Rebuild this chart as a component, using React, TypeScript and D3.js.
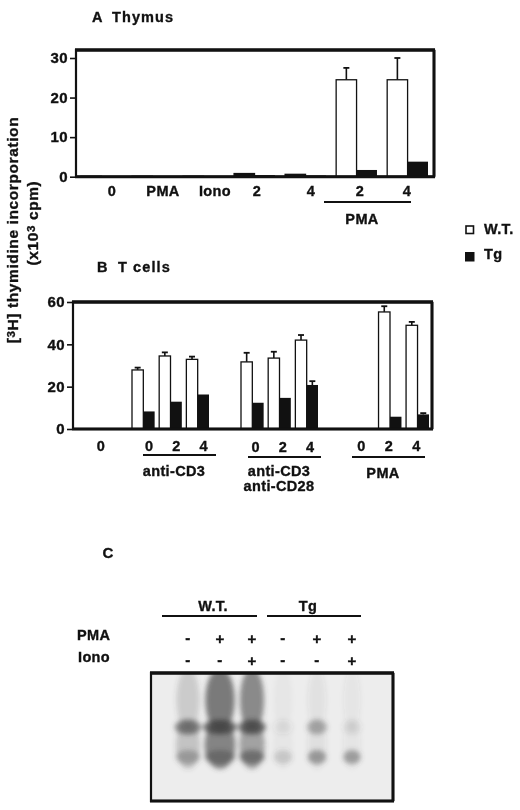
// @ts-nocheck
import { useRef, useEffect } from "react";
import * as d3 from "d3";

// Panel A
const thymusCategories = ["0", "PMA", "Iono", "2", "4", "PMA 2", "PMA 4"];
const thymusLabels = ["0", "PMA", "Iono", "2", "4", "2", "4"];
const thymusWT = [0.1, 0.1, 0.1, 0.8, 0.6, 24.5, 24.5];
const thymusWTErr = [0, 0, 0, 0, 0, 27.5, 30];
const thymusTg = [0.1, 0.1, 0.1, 0.4, 0.3, 1.7, 3.8];
const thymusTicks = [0, 10, 20, 30];

// Panel B
const doses = ["0", "2", "4"];
const cd3WT = [27.9, 34.5, 32.9];
const cd3WTErr = [29, 36.2, 34.2];
const cd3Tg = [8.3, 12.9, 16.3];
const cd28WT = [31.7, 33.5, 42];
const cd28WTErr = [36, 36.5, 44.4];
const cd28Tg = [12.4, 14.7, 20.8];
const cd28TgErr = [0, 0, 22.6];
const pmaWT = [0, 55.3, 49];
const pmaWTErr = [0, 58, 50.6];
const pmaTg = [0, 5.8, 6.9];
const pmaTgErr = [0, 0, 7.5];
const tcellTicks = [0, 20, 40, 60];

// Panel C, lanes of the blot, darkness 0-1
const lanes = ["WT1", "WT2", "WT3", "Tg1", "Tg2", "Tg3"];
const pmaSigns = ["-", "+", "+", "-", "+", "+"];
const ionoSigns = ["-", "-", "+", "-", "-", "+"];
const upperBand = [0.62, 0.8, 0.78, 0.07, 0.38, 0.1];
const lowerBand = [0.34, 0.45, 0.55, 0.2, 0.48, 0.45];
const smear = [0.2, 0.68, 0.58, 0.03, 0.07, 0.05];
const midSmear = [0.24, 0.62, 0.45, 0.03, 0.08, 0.05];
const laneWidth = [1.1, 1.4, 1.15, 0.85, 0.85, 0.8];

const FONT = "'Liberation Sans', Arial, sans-serif";

const App = () => {
  const svgRef = useRef();

  useEffect(() => {
    const svg = d3.select(svgRef.current);
    svg.selectAll("*").remove();
    svg.attr("font-family", FONT).attr("font-weight", "bold").attr("fill", "#111");

    const label = (x, y, text, size = 14.5, anchor = "middle") =>
      svg
        .append("text")
        .attr("x", x)
        .attr("y", y)
        .attr("text-anchor", anchor)
        .attr("font-size", size)
        .text(text);

    const panelTitle = (x, y, letter, nameX, name) => {
      const t = svg.append("text").attr("y", y).attr("font-size", 14.5);
      t.append("tspan").attr("x", x).text(letter);
      t.append("tspan").attr("x", nameX).attr("class", "wide").text(name);
    };

    const rule = (x1, x2, y, w = 1.8) =>
      svg
        .append("line")
        .attr("x1", x1)
        .attr("x2", x2)
        .attr("y1", y)
        .attr("y2", y)
        .attr("stroke", "#111")
        .attr("stroke-width", w);

    const frame = (x0, x1, y0, y1) => {
      svg
        .append("rect")
        .attr("x", x0)
        .attr("y", y0)
        .attr("width", x1 - x0)
        .attr("height", y1 - y0)
        .attr("fill", "none")
        .attr("stroke", "#111")
        .attr("stroke-width", 2.2);
      rule(x0 - 1, x1 + 1, y0, 3.6);
      rule(x0 - 1, x1 + 1, y1, 3);
      svg
        .append("line")
        .attr("x1", x1)
        .attr("x2", x1)
        .attr("y1", y0)
        .attr("y2", y1)
        .attr("stroke", "#111")
        .attr("stroke-width", 3);
    };

    const yAxis = (y, ticks, x0) => {
      const g = svg
        .append("g")
        .attr("transform", `translate(${x0},0)`)
        .call(d3.axisLeft(y).tickValues(ticks).tickSize(5).tickPadding(2));
      g.select(".domain").remove();
      g.selectAll("line").attr("stroke", "#111").attr("stroke-width", 1.6);
      g.selectAll("text")
        .attr("font-family", FONT)
        .attr("font-weight", "bold")
        .attr("font-size", 15)
        .attr("fill", "#111");
    };

    const stem = (cx, yFrom, yTo) => {
      svg
        .append("line")
        .attr("x1", cx)
        .attr("x2", cx)
        .attr("y1", yFrom)
        .attr("y2", yTo)
        .attr("stroke", "#111")
        .attr("stroke-width", 1.6);
      rule(cx - 3, cx + 3, yTo, 1.8);
    };

    // white bar, black bar and the upward error stems of one pair
    const pair = (x, w, y, wt, tg, wtErr = 0, tgErr = 0, wtFill = "#fff") => {
      const inner = d3.scaleBand().domain(["wt", "tg"]).range([x, x + w]);
      const base = y(0);
      if (wtErr > 0) stem(inner("wt") + inner.bandwidth() / 2, y(wt), y(wtErr));
      if (tgErr > 0) stem(inner("tg") + inner.bandwidth() / 2, y(tg), y(tgErr));
      if (wt > 0)
        svg
          .append("rect")
          .attr("x", inner("wt"))
          .attr("y", y(wt))
          .attr("width", inner.bandwidth())
          .attr("height", base - y(wt))
          .attr("fill", wtFill)
          .attr("stroke", "#111")
          .attr("stroke-width", 1.3);
      if (tg > 0)
        svg
          .append("rect")
          .attr("x", inner("tg"))
          .attr("y", y(tg))
          .attr("width", inner.bandwidth())
          .attr("height", base - y(tg))
          .attr("fill", "#111");
    };

    // A Thymus
    panelTitle(92, 22, "A", 112, "Thymus");
    const yA = d3.scaleLinear().domain([0, 30]).range([176.7, 58]);
    const xA = d3
      .scaleBand()
      .domain(thymusCategories)
      .range([81, 428])
      .paddingInner(0.2);
    thymusCategories.forEach((c, i) => {
      // the low bars at 2 and 4 read as solid black in the scan
      const lowPair = i === 3 || i === 4;
      pair(xA(c), xA.bandwidth(), yA, thymusWT[i], thymusTg[i], thymusWTErr[i], 0, lowPair ? "#111" : "#fff");
    });
    frame(76, 434, 50, yA(0));
    yAxis(yA, thymusTicks, 75);
    const labelXA = [112, 163, 215, 257, 311, 360, 407];
    thymusLabels.forEach((t, i) => label(labelXA[i], 196, t));
    rule(324, 411, 202);
    label(362, 224, "PMA");

    // y title, shared by A and B
    const title = svg
      .append("text")
      .attr("class", "axis-title")
      .attr("transform", "translate(18,230) rotate(-90)")
      .attr("text-anchor", "middle")
      .attr("font-size", 15.5);
    title.append("tspan").text("[");
    title.append("tspan").attr("font-size", 11.5).attr("dy", -3).text("3");
    title.append("tspan").attr("dy", 3).text("H] thymidine incorporation");
    const title2 = svg
      .append("text")
      .attr("class", "axis-title")
      .attr("transform", "translate(38,223) rotate(-90)")
      .attr("text-anchor", "middle")
      .attr("font-size", 15.5);
    title2.append("tspan").text("(x10");
    title2.append("tspan").attr("font-size", 11.5).attr("dy", -3).text("3");
    title2.append("tspan").attr("dy", 3).text(" cpm)");

    // legend
    svg
      .append("rect")
      .attr("x", 466)
      .attr("y", 226)
      .attr("width", 7.5)
      .attr("height", 7.5)
      .attr("fill", "#fff")
      .attr("stroke", "#111")
      .attr("stroke-width", 1.6);
    label(484, 234, "W.T.", 14.5, "start");
    svg
      .append("rect")
      .attr("x", 465)
      .attr("y", 252)
      .attr("width", 9.5)
      .attr("height", 9.5)
      .attr("fill", "#111");
    label(484, 259, "Tg", 14.5, "start");

    // B T cells
    panelTitle(97, 272, "B", 118, "T cells");
    const yB = d3.scaleLinear().domain([0, 60]).range([429, 302]);
    const groups = [
      { x0: 132, x1: 209, wt: cd3WT, err: cd3WTErr, tg: cd3Tg, tgErr: [0, 0, 0], labelShift: 6, line: [143, 216], lineY: 455, labelY: 451 },
      { x0: 241, x1: 318, wt: cd28WT, err: cd28WTErr, tg: cd28Tg, tgErr: cd28TgErr, labelShift: 3.5, line: [248, 321], lineY: 457, labelY: 452 },
      { x0: 351, x1: 429, wt: pmaWT, err: pmaWTErr, tg: pmaTg, tgErr: pmaTgErr, labelShift: -1, line: [352, 425], lineY: 457, labelY: 451 },
    ];
    groups.forEach((g) => {
      const x = d3.scaleBand().domain(doses).range([g.x0, g.x1]).paddingInner(0.167);
      doses.forEach((d, i) => {
        pair(x(d), x.bandwidth(), yB, g.wt[i], g.tg[i], g.err[i], g.tgErr[i]);
        label(x(d) + x.bandwidth() / 2 + g.labelShift, g.labelY, d);
      });
      rule(g.line[0], g.line[1], g.lineY);
    });
    frame(73, 432, 302, yB(0));
    yAxis(yB, tcellTicks, 72);
    label(101, 451, "0");
    label(174, 476, "anti-CD3");
    label(279, 476, "anti-CD3");
    label(279, 491, "anti-CD28");
    label(383, 478, "PMA");

    // C blot
    label(108, 558, "C", 15);
    label(213, 611, "W.T.");
    rule(162, 257, 616);
    label(308, 611, "Tg");
    rule(267, 361, 616);
    label(77, 640, "PMA", 14.5, "start");
    label(78, 662, "Iono", 14.5, "start");

    const xLane = d3.scaleOrdinal(lanes, [188, 220, 252, 283, 317, 352]);
    lanes.forEach((l, i) => {
      label(xLane(l), pmaSigns[i] === "+" ? 644 : 643, pmaSigns[i], 15);
      label(xLane(l), ionoSigns[i] === "+" ? 666 : 665, ionoSigns[i], 15);
    });

    const defs = svg.append("defs");
    defs
      .append("clipPath")
      .attr("id", "blot-clip")
      .append("rect")
      .attr("x", 151)
      .attr("y", 673)
      .attr("width", 242)
      .attr("height", 128);
    defs
      .append("filter")
      .attr("id", "blur-band")
      .attr("x", "-50%")
      .attr("y", "-50%")
      .attr("width", "200%")
      .attr("height", "200%")
      .append("feGaussianBlur")
      .attr("stdDeviation", 2.8);

    const blot = svg.append("g").attr("clip-path", "url(#blot-clip)");
    blot
      .append("rect")
      .attr("x", 151)
      .attr("y", 673)
      .attr("width", 242)
      .attr("height", 128)
      .attr("fill", "#ededed");
    const bands = blot.append("g").attr("filter", "url(#blur-band)");
    const ellipse = (x, y, rx, ry, dark) =>
      bands
        .append("ellipse")
        .attr("cx", x)
        .attr("cy", y)
        .attr("rx", rx)
        .attr("ry", ry)
        .attr("fill", "#444")
        .attr("fill-opacity", dark);
    lanes.forEach((l, i) => {
      const x = xLane(l);
      const w = laneWidth[i];
      ellipse(x, 700, 10.5 * w, 32, smear[i]);
      ellipse(x, 745, 11 * w, 24, midSmear[i]);
      ellipse(x, 757, 11 * w, 7, lowerBand[i]);
      ellipse(x, 727, 12 * w, 7.5, upperBand[i]);
    });
    frame(151, 393, 673, 801);

    svg
      .selectAll("text")
      .attr("letter-spacing", 0.35)
      .attr("stroke", "#111")
      .attr("stroke-width", 0.35);
    svg.selectAll(".axis-title").attr("letter-spacing", 0.6);
    svg.selectAll(".wide").attr("letter-spacing", 1.1);
  }, []);

  return (
    <svg
      ref={svgRef}
      width={520}
      height={810}
      style={{ position: "absolute", left: 0, top: 0, background: "#fff", filter: "blur(0.4px)" }}
    ></svg>
  );
};

export default App;
